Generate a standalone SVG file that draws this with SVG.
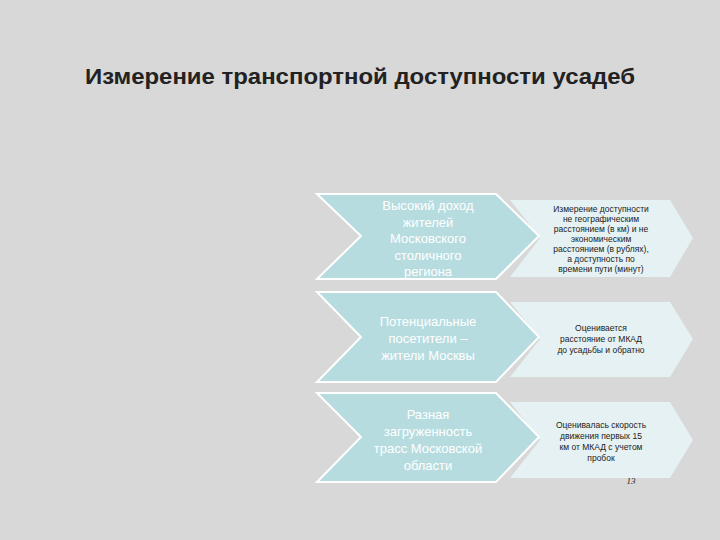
<svg xmlns="http://www.w3.org/2000/svg" width="720" height="540" viewBox="0 0 720 540">
<style>
.l{fill:#b7dce0;stroke:#fff;stroke-width:2}
.r{fill:#e5f1f2}
.lt{font-family:"Liberation Sans",Arial,sans-serif;font-size:13px;fill:#fff;text-anchor:middle}
.rt{font-family:"Liberation Sans",Arial,sans-serif;font-size:8.5px;fill:#222;text-anchor:middle}
</style>
<rect width="720" height="540" fill="#d8d8d8"/>
<text x="85" y="84" font-family="Liberation Sans,Arial,sans-serif" font-size="22" font-weight="bold" fill="#222" textLength="550" lengthAdjust="spacingAndGlyphs">Измерение транспортной доступности усадеб</text>
<g id="n2"><path class="r" d="M510,200 H670 L693,238 L670,277 H510 L540,238 Z"/>
<text class="rt"><tspan x="601" y="212">Измерение доступности</tspan><tspan x="601" y="222">не географическим</tspan><tspan x="601" y="232">расстоянием (в км) и не</tspan><tspan x="601" y="242">экономическим</tspan><tspan x="601" y="252">расстоянием (в рублях),</tspan><tspan x="601" y="262">а доступность по</tspan><tspan x="601" y="272">времени пути (минут)</tspan></text></g>
<g id="n4"><path class="r" d="M510,302 H670 L693,339 L670,377 H510 L540,339 Z"/>
<text class="rt"><tspan x="601" y="331">Оценивается</tspan><tspan x="601" y="342">расстояние от МКАД</tspan><tspan x="601" y="353">до усадьбы и обратно</tspan></text></g>
<g id="n6"><path class="r" d="M510,402 H670 L693,440 L670,478 H510 L540,440 Z"/>
<text class="rt"><tspan x="601" y="428">Оценивалась скорость</tspan><tspan x="601" y="439">движения первых 15</tspan><tspan x="601" y="450">км от МКАД с учетом</tspan><tspan x="601" y="461">пробок</tspan></text></g>
<g id="n1"><path class="l" d="M317,194 H496 L539,236 L496,279 H317 L361,236 Z"/>
<text class="lt"><tspan x="428" y="210">Высокий доход</tspan><tspan x="428" y="226.5">жителей</tspan><tspan x="428" y="243">Московского</tspan><tspan x="428" y="259.5">столичного</tspan><tspan x="428" y="276">региона</tspan></text></g>
<g id="n3"><path class="l" d="M317,292 H496 L539,337 L496,382 H317 L361,337 Z"/>
<text class="lt"><tspan x="428" y="326">Потенциальные</tspan><tspan x="428" y="343">посетители –</tspan><tspan x="428" y="360">жители Москвы</tspan></text></g>
<g id="n5"><path class="l" d="M317,393 H496 L539,437 L496,482 H317 L361,437 Z"/>
<text class="lt"><tspan x="428" y="419">Разная</tspan><tspan x="428" y="436">загруженность</tspan><tspan x="428" y="453">трасс Московской</tspan><tspan x="428" y="470">области</tspan></text></g>
<g id="connectors"/>
<text x="631" y="484" font-family="Liberation Serif,serif" font-size="9" font-style="italic" fill="#222" text-anchor="middle">13</text>
</svg>
